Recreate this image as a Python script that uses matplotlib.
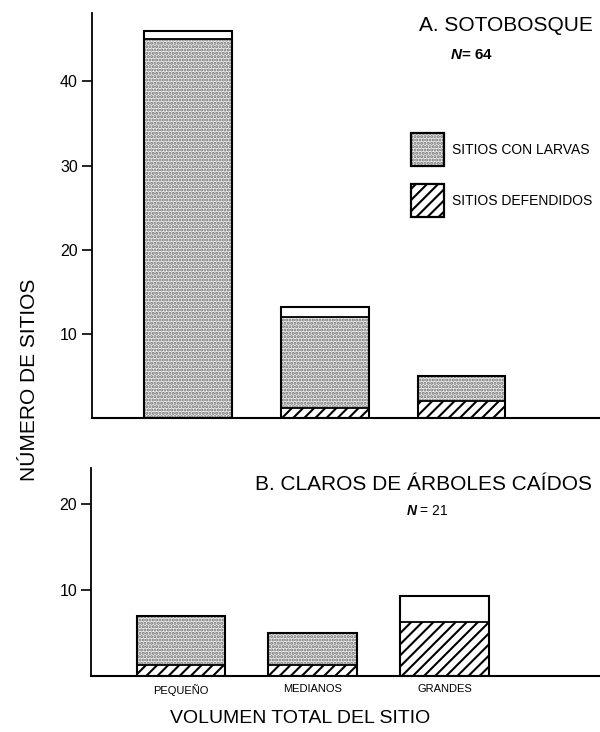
import matplotlib
matplotlib.use("Agg")
import matplotlib.pyplot as plt
from matplotlib.patches import Rectangle

plt.rcParams['font.family'] = ['Liberation Sans', 'DejaVu Sans']
plt.rcParams['hatch.linewidth'] = 1.5
plt.rcParams['mathtext.fontset'] = 'custom'
plt.rcParams['mathtext.it'] = 'Liberation Sans:italic:bold'

# --- datos ---
categorias = ['PEQUEÑO', 'MEDIANOS', 'GRANDES']

# A. Sotobosque (N = 64)
a_total = [46, 13.2, 5]
a_larvas = [45, 12, 5]
a_defendidos = [0, 1.2, 2]

# B. Claros de árboles caídos (N = 21)
b_total = [7, 5, 9.3]
b_larvas = [7, 5, 6.3]
b_defendidos = [1.3, 1.3, 6.3]

STIPPLE = '#6e6e6e'
FONDO_PUNTEADO = '#eeeeee'


def dibujar_barras(ax, total, larvas, defendidos, ancho):
    x = list(range(len(total)))
    # parte blanca (sitios sin larvas)
    ax.bar(x, total, width=ancho, color='white', edgecolor='none', zorder=1)
    # sitios con larvas: punteado gris
    alto_larvas = [l - d for l, d in zip(larvas, defendidos)]
    ax.bar(x, alto_larvas, bottom=defendidos, width=ancho, color=FONDO_PUNTEADO,
           edgecolor=STIPPLE, hatch='.....', linewidth=0, zorder=2)
    # sitios defendidos: rayado
    ax.bar(x, defendidos, width=ancho, color='white', edgecolor='black',
           hatch='///', linewidth=0, zorder=2)
    # contornos
    for xi, t, l, d in zip(x, total, larvas, defendidos):
        ax.bar(xi, t, width=ancho, fill=False, edgecolor='black', linewidth=1.5, zorder=3)
        if l < t:
            ax.hlines(l, xi - ancho / 2, xi + ancho / 2, color='black', lw=1.3, zorder=3)
        if 0 < d < l:
            ax.hlines(d, xi - ancho / 2, xi + ancho / 2, color='black', lw=1.3, zorder=3)


def estilo_ejes(ax):
    for s in ('top', 'right'):
        ax.spines[s].set_visible(False)
    ax.spines['left'].set_linewidth(1.3)
    ax.spines['bottom'].set_linewidth(1.5)
    ax.tick_params(axis='y', length=7, width=1.2, labelsize=11.5, pad=3)
    ax.tick_params(axis='x', length=0)


fig = plt.figure(figsize=(6, 7.32), dpi=100)

ax1 = fig.add_axes([0.153, 0.429, 0.847, 0.553])
dibujar_barras(ax1, a_total, a_larvas, a_defendidos, 0.64)
ax1.set_xlim(-0.70, 3.01)
ax1.set_ylim(0, 48.1)
ax1.set_yticks([10, 20, 30, 40])
ax1.set_xticks([])
estilo_ejes(ax1)
ax1.text(0.985, 0.97, 'A. SOTOBOSQUE', transform=ax1.transAxes, ha='right',
         va='center', fontsize=15)
ax1.text(0.748, 0.896, r'$\it{N}$= 64', transform=ax1.transAxes, ha='center',
         va='center', fontsize=11, fontweight='bold')

# leyenda: cuadros con borde negro
leyenda = [('SITIOS CON LARVAS', FONDO_PUNTEADO, STIPPLE, '.....', 0.622),
           ('SITIOS DEFENDIDOS', 'white', 'black', '///', 0.496)]
for texto, cara, borde, trama, y0 in leyenda:
    ax1.add_patch(Rectangle((0.628, y0), 0.065, 0.082, transform=ax1.transAxes,
                            facecolor=cara, edgecolor=borde, hatch=trama, lw=0,
                            clip_on=False, zorder=4))
    ax1.add_patch(Rectangle((0.628, y0), 0.065, 0.082, transform=ax1.transAxes,
                            fill=False, edgecolor='black', lw=1.6,
                            clip_on=False, zorder=5))
    ax1.text(0.709, y0 + 0.041, texto, transform=ax1.transAxes, ha='left',
             va='center', fontsize=10)

ax2 = fig.add_axes([0.152, 0.0765, 0.848, 0.2845])
dibujar_barras(ax2, b_total, b_larvas, b_defendidos, 0.67)
ax2.set_xlim(-0.68, 3.18)
ax2.set_ylim(0, 24.2)
ax2.set_yticks([10, 20])
ax2.set_xticks(range(len(categorias)))
ax2.set_xticklabels(categorias, fontsize=8)
estilo_ejes(ax2)
ax2.tick_params(axis='x', pad=6)
ax2.text(0.985, 0.92, 'B. CLAROS DE ÁRBOLES CAÍDOS', transform=ax2.transAxes,
         ha='right', va='center', fontsize=15)
ax2.text(0.66, 0.79, r'$\it{N}$ = 21', transform=ax2.transAxes, ha='center',
         va='center', fontsize=10)

fig.text(0.05, 0.481, 'NÚMERO DE SITIOS', rotation=90, ha='center', va='center',
         fontsize=15)
fig.text(0.5, 0.019, 'VOLUMEN TOTAL DEL SITIO', ha='center', va='center', fontsize=14)

fig.savefig('out.png', dpi=100)
